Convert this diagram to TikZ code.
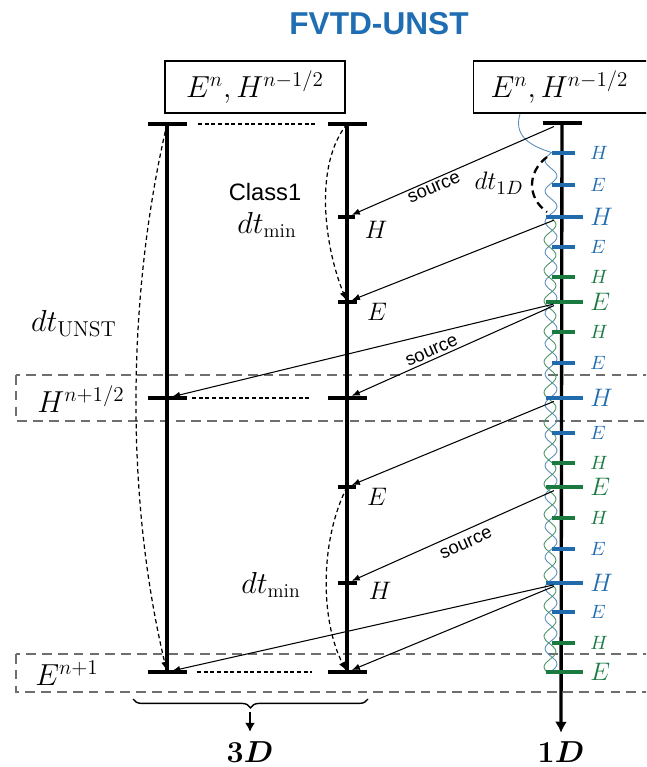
\documentclass[tikz,border=0pt]{standalone}
\usepackage{amsmath,bm}
\usepackage{fontspec}
\setsansfont{Liberation Sans}
\usetikzlibrary{arrows.meta,decorations.pathreplacing}
\definecolor{titleBlue}{HTML}{1F6DB3}
\definecolor{stepBlue}{HTML}{1F6BAE}
\definecolor{stepGreen}{HTML}{1A7A40}
\definecolor{waveBlue}{HTML}{5A8DB8}
\definecolor{waveGreen}{HTML}{4A9466}
\definecolor{bandGray}{HTML}{6E6E6E}

\begin{document}
\begin{tikzpicture}[
  x=0.02cm,y=-0.02cm,
  axis/.style={line width=1.9pt},
  capline/.style={line width=1.9pt},
  tickB/.style={line width=1.8pt,draw=stepBlue},
  tickG/.style={line width=1.8pt,draw=stepGreen},
  valbox/.style={draw,line width=0.6pt,minimum height=1.04cm,font=\fontsize{17}{20}\selectfont},
  level/.style={dash pattern=on 2.2pt off 1.6pt,line width=0.6pt},
  hop/.style={dash pattern=on 2.5pt off 1.8pt,line width=0.7pt,-{Latex[length=1.7mm,width=1.4mm]},shorten >=1pt},
  src/.style={-{Latex[length=1.6mm,width=1.3mm]},line width=0.6pt,shorten >=3pt,shorten <=5pt},
  band/.style={draw=bandGray,line width=0.8pt,dash pattern=on 5.5pt off 3.5pt},
  dtd/.style={dash pattern=on 4.5pt off 2.8pt,line width=1.3pt},
  lab/.style={font=\fontsize{15}{18}\selectfont},
  biglab/.style={font=\fontsize{18}{21}\selectfont},
  srclab/.style={font=\sffamily\fontsize{10.5}{12}\selectfont,sloped,inner sep=1.5pt},
  labS/.style={anchor=west,inner sep=0pt,font=\fontsize{11}{13}\selectfont},
  labL/.style={anchor=west,inner sep=0pt,font=\fontsize{15}{18}\selectfont},
  wave/.style={line width=0.5pt}
]
\useasboundingbox (0,0) rectangle (646,767);
\clip (0,0) rectangle (646,767);

% title and start values
\node[font=\sffamily\bfseries\fontsize{18}{21}\selectfont,text=titleBlue] (title) at (379,24) {FVTD-UNST};
\node[valbox,minimum width=3.6cm] (box3d) at (255,87) {$E^n,H^{n-1/2}$};
\node[valbox,anchor=west,minimum height=1.04cm,text width=3cm,inner xsep=9.7pt,align=left] (box1d) at (473,87) {$E^n,H^{n-1/2}$};

% time levels
\coordinate (a0) at (167,124);
\coordinate (a3) at (167,398);
\coordinate (a6) at (167,672);
\coordinate (b0) at (347,124);
\coordinate (b1) at (347,217);
\coordinate (b2) at (347,302);
\coordinate (b3) at (347,398);
\coordinate (b4) at (347,487);
\coordinate (b5) at (347,583);
\coordinate (b6) at (347,672);
\coordinate (c0) at (562,123);
\coordinate (c1) at (562,217);
\coordinate (c2) at (562,302);
\coordinate (c3) at (562,398);
\coordinate (c4) at (562,487);
\coordinate (c5) at (562,583);
\coordinate (c6) at (562,672);

% dashed bands
\draw[band] (16,375) rectangle (660,421);
\draw[band] (16,654) rectangle (660,692);
\node[biglab] (hhalf) at (81,399) {$H^{n+1/2}$};
\node[biglab] (enext) at (67,673) {$E^{n+1}$};

% 3D axes
\draw[axis] (a0) -- (a6);
\draw[axis] (b0) -- (b6);
\draw[capline] (a0) ++(-19.5,0) -- ++(39,0);
\draw[capline] (a3) ++(-19.5,0) -- ++(39,0);
\draw[capline] (a6) ++(-19.5,0) -- ++(39,0);
\draw[capline] (b0) ++(-19.5,0) -- ++(39,0);
\draw[capline] (b3) ++(-19.5,0) -- ++(39,0);
\draw[capline] (b6) ++(-19.5,0) -- ++(39,0);
\draw[capline] (b1) ++(-9,0) -- ++(17,0);
\draw[capline] (b2) ++(-9,0) -- ++(19,0);
\draw[capline] (b4) ++(-9,0) -- ++(18,0);
\draw[capline] (b5) ++(-9,0) -- ++(19,0);
\draw[level,shorten <=0.62cm,shorten >=0.64cm] (a0) -- (b0);
\draw[level,shorten <=0.5cm,shorten >=0.7cm] (a3) -- (b3);
\draw[level,shorten <=0.6cm,shorten >=0.7cm] (a6) -- (b6);
\node[lab] (lh1) at (376,230) {$H$};
\node[lab] (le1) at (377,312) {$E$};
\node[lab] (le2) at (377,497) {$E$};
\node[lab] (lh2) at (380,591) {$H$};

% sub-steps of the 3D classes
\draw[hop] (a0) .. controls (126,300) and (126,500) .. (a6);
\draw[hop] (b0) .. controls (314,165) and (324,245) .. (b2);
\draw[hop] (b4) .. controls (320,540) and (320,620) .. (b6);
\node[font=\sffamily\fontsize{13.5}{16}\selectfont] (cls) at (265,192) {Class1};
\node[font=\fontsize{16}{19}\selectfont] (dtmin1) at (267,225) {$dt_{\min}$};
\node[font=\fontsize{16}{19}\selectfont] (dtmin2) at (271,585) {$dt_{\min}$};
\node[font=\fontsize{17.5}{20}\selectfont] (dtunst) at (74,324) {$dt_{\mathrm{UNST}}$};

% 1D axis
\node[font=\fontsize{16}{19}\selectfont] (lab1d) at (561,752) {$\bm{1D}$};
\draw[axis,-{Latex[length=2.2mm,width=2.4mm]},shorten >=1.5pt] (c0) -- (lab1d.north);
\draw[capline] (c0) ++(-19.5,0) -- ++(39,0);

% 1D waves
\draw[wave,waveBlue] (520,114) .. controls (512,140) and (538,148) .. (553,153);
\draw[wave,waveBlue] plot[domain=153:672,samples=220,smooth] ({551-6*sin(11.803*(\x-153))},\x);
\draw[wave,waveGreen] plot[domain=217:672,samples=200,smooth] ({550+6*sin(11.803*(\x-217))},\x);

% 1D ticks
\foreach \y/\f in {153/H,185/E,247/E,363/E,433/E,549/E,612/E}{
  \draw[tickB] (552,\y) -- (575,\y);
  \node[labS,text=stepBlue] (s\y) at (590,\y) {$\f$};
}
\foreach \y/\f in {277/H,332/H,463/H,518/H,643/H}{
  \draw[tickG] (552,\y) -- (575,\y);
  \node[labS,text=stepGreen] (s\y) at (590,\y) {$\f$};
}
\foreach \y/\f in {217/H,398/H,583/H}{
  \draw[tickB] (546,\y) -- (583,\y);
  \node[labL,text=stepBlue] (s\y) at (590,\y) {$\f$};
}
\foreach \y/\f in {302/E,487/E,672/E}{
  \draw[tickG] (546,\y) -- (583,\y);
  \node[labL,text=stepGreen] (s\y) at (590,\y) {$\f$};
}
\draw[dtd] (547,157) .. controls (527,172) and (527,198) .. (547,212);
\node[font=\fontsize{15}{18}\selectfont] (dt1d) at (499,183) {$dt_{1D}$};

% source coupling
\draw[src] (c0) -- (b1) node[srclab,pos=0.61,below] (src1) {source};
\draw[src] (c1) -- (b2);
\draw[src] (c2) -- (a3);
\draw[src] (c2) -- (b3) node[srclab,pos=0.59,above] (src2) {source};
\draw[src] (c3) -- (b4);
\draw[src] (c4) -- (b5) node[srclab,pos=0.47,below,inner sep=4pt] (src3) {source};
\draw[src] (c5) -- (a6);
\draw[src] (c5) -- (b6);

% 3D output
\draw[line width=0.8pt,decorate,decoration={brace,mirror,amplitude=5pt}] (133,699) -- (368,699);
\coordinate (bt) at (250,712);
\node[font=\fontsize{16}{19}\selectfont] (lab3d) at (250,752) {$\bm{3D}$};
\draw[line width=1.2pt,-{Latex[length=1.8mm,width=2mm]},shorten >=2pt] (bt) -- (lab3d.north);
\end{tikzpicture}
\end{document}
